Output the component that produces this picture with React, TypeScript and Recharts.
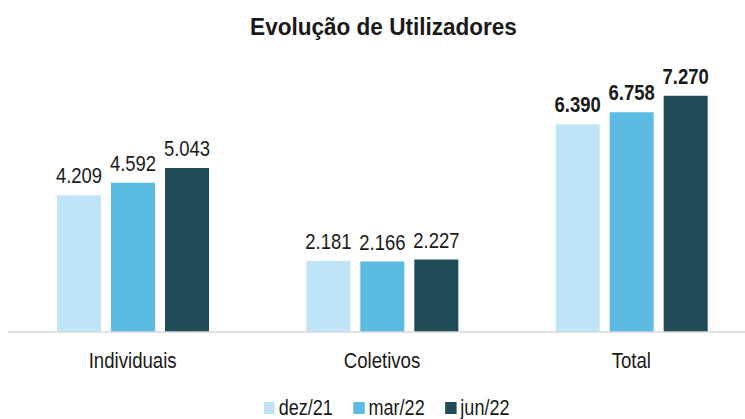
import { BarChart, Bar, XAxis, YAxis, Legend, LabelList } from 'recharts';

// values (utilizadores)
const categories = ['Individuais', 'Coletivos', 'Total'];
const dez21 = [4209, 2181, 6390];
const mar22 = [4592, 2166, 6758];
const jun22 = [5043, 2227, 7270];

const seriesNames = ['dez/21', 'mar/22', 'jun/22'];
const seriesKeys = ['dez21', 'mar22', 'jun22'];
const seriesColors = ['#bfe4f6', '#5cbbe1', '#1f4c57'];

const data = categories.map((name, i) => ({
  name,
  dez21: dez21[i],
  mar22: mar22[i],
  jun22: jun22[i],
}));

// Arial Narrow look-alike: Liberation Sans squeezed horizontally
const FONT = '"Liberation Sans", Arial, sans-serif';
const NARROW = 0.84;

const fmt = (v: number) => v.toLocaleString('de-DE');

const ValueLabel = (props: any) => {
  const { x, y, width, value, index } = props;
  const bold = categories[index] === 'Total';
  return (
    <text
      transform={`translate(${x + width / 2},${y - 12}) scale(${NARROW},1)`}
      textAnchor="middle"
      fontFamily={FONT}
      fontSize={22}
      fontWeight={bold ? 700 : 400}
      fill="#1a1a1a"
    >
      {fmt(value)}
    </text>
  );
};

const CategoryTick = (props: any) => {
  const { x, y, payload } = props;
  return (
    <text
      transform={`translate(${x},${y + 28}) scale(0.81,1)`}
      textAnchor="middle"
      fontFamily={FONT}
      fontSize={23}
      fill="#1a1a1a"
    >
      {payload.value}
    </text>
  );
};

const LegendContent = () => (
  <div
    style={{
      display: 'flex',
      justifyContent: 'center',
      gap: 25,
      paddingTop: 14,
      paddingLeft: 11,
      fontFamily: FONT,
      fontSize: 22,
      color: '#1a1a1a',
      lineHeight: '20px',
      transform: 'scaleX(0.82)',
      transformOrigin: 'center',
    }}
  >
    {seriesNames.map((s, i) => (
      <div key={s} style={{ display: 'flex', alignItems: 'center' }}>
        <span
          style={{ width: 13.5, height: 11.5, background: seriesColors[i], marginRight: 5, display: 'inline-block' }}
        />
        {s}
      </div>
    ))}
  </div>
);

export default function App() {
  return (
    <div style={{ position: 'fixed', left: 0, top: 0, width: 745, height: 419, overflow: 'hidden', background: '#fff' }}>
      <div
        style={{
          position: 'absolute',
          top: 14,
          left: 0,
          width: 767,
          textAlign: 'center',
          fontFamily: FONT,
          fontWeight: 700,
          fontSize: 23,
          color: '#1a1a1a',
          transform: 'scaleX(0.98)',
        }}
      >
        Evolução de Utilizadores
      </div>
      <BarChart
        width={760}
        height={419}
        data={data}
        margin={{ top: 72, right: 4, bottom: 0, left: 8 }}
        barGap={10}
        barSize={44}
      >
        <YAxis hide domain={[0, 8000]} />
        <XAxis
          dataKey="name"
          axisLine={{ stroke: '#d6d9dc', strokeWidth: 1.5 }}
          tickLine={false}
          height={52}
          tick={<CategoryTick />}
          interval={0}
        />
        <Legend verticalAlign="bottom" height={35} content={<LegendContent />} />
        {seriesKeys.map((k, i) => (
          <Bar key={k} dataKey={k} name={seriesNames[i]} fill={seriesColors[i]} isAnimationActive={false}>
            <LabelList dataKey={k} content={<ValueLabel />} />
          </Bar>
        ))}
      </BarChart>
    </div>
  );
}
